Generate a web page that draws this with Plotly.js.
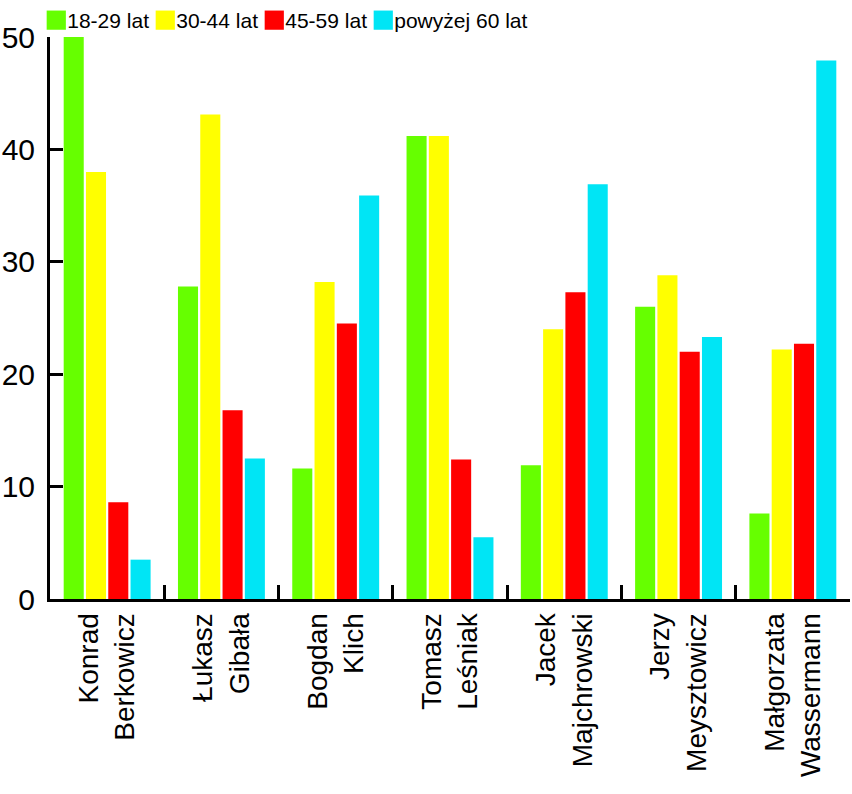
<!DOCTYPE html>
<html>
<head>
<meta charset="utf-8">
<script src="https://cdn.plot.ly/plotly-3.0.1.min.js"></script>
<style>html,body{margin:0;padding:0;background:#fff;}#chart{width:852px;height:794px;}</style>
</head>
<body>
<div id="chart"></div>
<script>
const categories = ["Konrad<br>Berkowicz", "Łukasz<br>Gibała", "Bogdan<br>Klich", "Tomasz<br>Leśniak", "Jacek<br>Majchrowski", "Jerzy<br>Meysztowicz", "Małgorzata<br>Wassermann"];
const seriesNames = ["18-29 lat", "30-44 lat", "45-59 lat", "powyżej 60 lat"];
const age18_29 = [50.0, 27.8, 11.6, 41.2, 11.9, 26.0, 7.6];
const age30_44 = [38.0, 43.1, 28.2, 41.2, 24.0, 28.8, 22.2];
const age45_59 = [8.6, 16.8, 24.5, 12.4, 27.3, 22.0, 22.7];
const age60plus = [3.5, 12.5, 35.9, 5.5, 36.9, 23.3, 47.9];
const colors = ["#66ff00", "#ffff00", "#ff0000", "#00e5f5"];
const seriesValues = [age18_29, age30_44, age45_59, age60plus];

const traces = seriesValues.map((vals, i) => ({
  type: "bar",
  name: seriesNames[i],
  x: categories,
  y: vals,
  marker: {color: colors[i], line: {width: 0}},
  hoverinfo: "skip"
}));

const layout = {
  width: 852, height: 794,
  margin: {l: 50, r: 2, t: 37, b: 195, autoexpand: false},
  paper_bgcolor: "#fff", plot_bgcolor: "#fff",
  barmode: "group", bargap: 0.22, bargroupgap: 0.1,
  showlegend: true,
  legend: {orientation: "h", xref: "container", x: 0.032, xanchor: "left",
           yref: "container", y: 1.0, yanchor: "top",
           font: {family: "Liberation Sans, Arial", size: 21, color: "#000"},
           itemwidth: 30, tracegroupgap: 0, entrywidth: 64, entrywidthmode: "pixels",
           bgcolor: "rgba(0,0,0,0)"},
  xaxis: {
    type: "category", range: [-0.5, 6.5], showline: true, linecolor: "#000", linewidth: 3,
    ticks: "inside", tickson: "boundaries", ticklen: 14, tickwidth: 3, tickcolor: "#000",
    tickangle: -90, showgrid: false, zeroline: false,
    tickfont: {family: "Liberation Sans, Arial", size: 28, color: "#000"}
  },
  yaxis: {
    range: [0, 50], showline: true, linecolor: "#000", linewidth: 3,
    ticks: "inside", ticklen: 13, tickwidth: 3, tickcolor: "#000", dtick: 10,
    showgrid: false, zeroline: false, ticklabelstandoff: 6,
    tickfont: {family: "Liberation Sans, Arial", size: 30, color: "#000"}
  }
};

Plotly.newPlot("chart", traces, layout, {displayModeBar: false, staticPlot: true}).then(() => {
  document.querySelectorAll("#chart .legendpoints path").forEach(p => p.setAttribute("transform", "translate(29,0) scale(1.6)"));
  document.querySelectorAll("#chart .legend .scrollbox").forEach(s => s.removeAttribute("clip-path"));
  document.querySelectorAll("#chart .legend").forEach(s => s.removeAttribute("clip-path"));
});
</script>
</body>
</html>
